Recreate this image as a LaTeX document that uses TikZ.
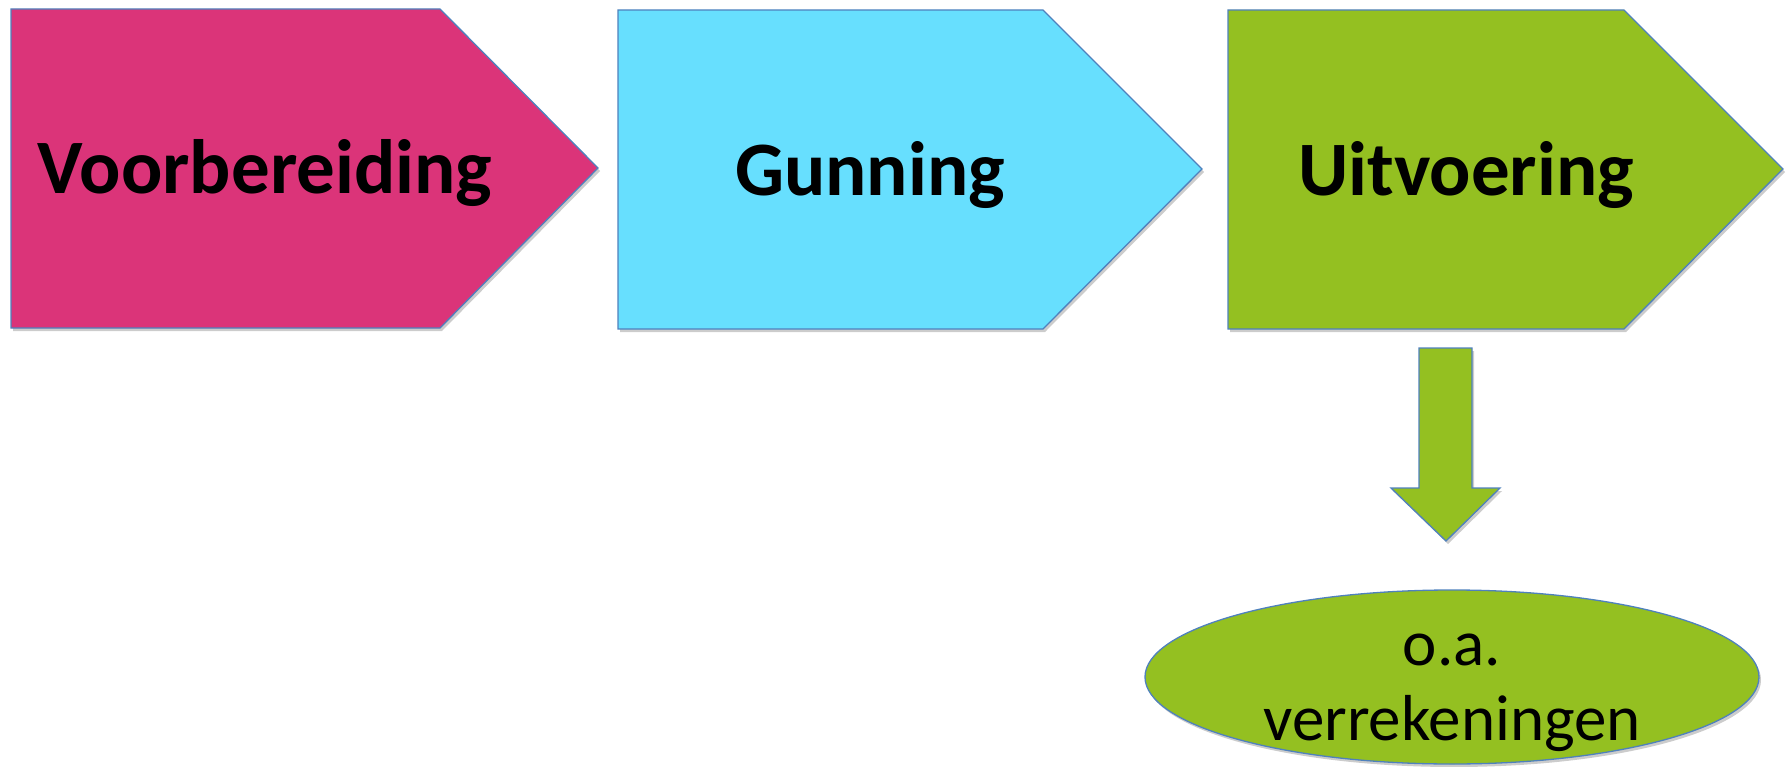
\documentclass[tikz,border=0pt]{standalone}
\usepackage{fontspec}
\setmainfont{Carlito}
\usetikzlibrary{shadows,shapes.geometric,calc}
\definecolor{magF}{RGB}{219,52,121}
\definecolor{cyanF}{RGB}{103,223,254}
\definecolor{greenF}{RGB}{148,192,33}
\definecolor{edgeB}{RGB}{79,129,189}
\begin{document}
\begin{tikzpicture}[x=1pt,y=-1pt,
  shapeedge/.style={draw=edgeB, line width=1.3pt, line join=miter,
    drop shadow={shadow xshift=2pt, shadow yshift=-3pt, fill=black, opacity=0.2}},
  phasetext/.style={anchor=base, inner sep=0pt, font=\bfseries\fontsize{77}{82}\selectfont},
  elltext/.style={anchor=base, inner sep=0pt, font=\fontsize{65}{70}\selectfont}]
\useasboundingbox (0,0) rectangle (1791,767);
% phase arrows
\coordinate (a1) at (11,9);
\coordinate (a2) at (618,10);
\coordinate (a3) at (1228,10);
\path[shapeedge, fill=magF] (a1) -- ++(429,0) -- ++(158,159) -- ++(-158,160) -- ++(-429,0) -- cycle;
\path[shapeedge, fill=cyanF] (a2) -- ++(425,0) -- ++(159,159) -- ++(-159,160) -- ++(-425,0) -- cycle;
\path[shapeedge, fill=greenF] (a3) -- ++(396,0) -- ++(159,159) -- ++(-159,160) -- ++(-396,0) -- cycle;
\node[phasetext] (t1) at (265,194) {Voorbereiding};
\node[phasetext] (t2) at (870,196) {Gunning};
\node[phasetext] (t3) at (1466,196) {Uitvoering};
% down block arrow
\coordinate (dtop) at (1446,348);
\coordinate (dtip) at (1446,541);
\path[shapeedge, fill=greenF] ($(dtop)+(-27,0)$) -- ($(dtop)+(26,0)$) -- ($(dtip)+(26,-53)$) -- ($(dtip)+(54,-53)$) -- (dtip) -- ($(dtip)+(-55,-53)$) -- ($(dtip)+(-27,-53)$) -- cycle;
% ellipse
\node[ellipse, shapeedge, fill=greenF, minimum width=614pt, minimum height=174pt, inner sep=0pt] (ell) at (1452,677) {};
\node[elltext] (l1) at (1452,665) {o.a.};
\node[elltext] (l2) at (1452,740) {verrekeningen};
\end{tikzpicture}
\end{document}
